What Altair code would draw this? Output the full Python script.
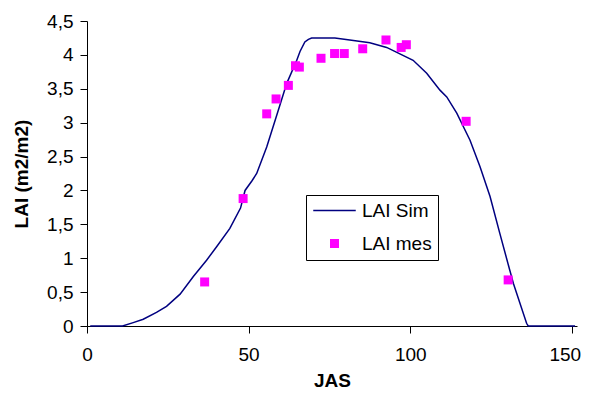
import altair as alt
import pandas as pd

# Simulated LAI (line)
sim_x = [1, 11, 14.3, 17.4, 21.5, 24.6, 28.8, 32.9, 37.0, 40.1, 44.2, 47.5, 48.9,
         51.0, 52.5, 55.6, 58.7, 61.8, 64.9, 65.9, 67.4, 68.5, 69.5, 72.0, 76.7, 81.3,
         87.5, 92.7, 100.9, 105.1, 109.2, 111.3, 114.4, 118.5, 121.6, 124.7,
         127.7, 131.9, 136.0, 136.5, 151]
sim_y = [0, 0, 0.05, 0.10, 0.20, 0.29, 0.47, 0.73, 0.97, 1.17, 1.44, 1.74, 2.0,
         2.14, 2.25, 2.64, 3.11, 3.58, 3.92, 4.05, 4.19, 4.23, 4.25, 4.25, 4.25, 4.22,
         4.18, 4.11, 3.92, 3.73, 3.48, 3.38, 3.14, 2.74, 2.35, 1.91,
         1.37, 0.63, 0.04, 0, 0]

# Measured LAI (points)
mes_x = [36.4, 48.3, 55.6, 58.5, 62.3, 64.5, 65.7, 72.4, 76.6, 79.6, 85.3, 92.5, 97.2, 98.8, 117.3, 130.3]
mes_y = [0.65, 1.88, 3.13, 3.35, 3.55, 3.84, 3.82, 3.95, 4.02, 4.02, 4.09, 4.22, 4.11, 4.15, 3.02, 0.68]

series = ["LAI Sim", "LAI mes"]
x_ticks = [0, 50, 100, 150]
y_ticks = [0, 0.5, 1, 1.5, 2, 2.5, 3, 3.5, 4, 4.5]

sim_df = pd.DataFrame({"x": sim_x, "y": sim_y})
mes_df = pd.DataFrame({"x": mes_x, "y": mes_y, "series": series[1]})

FONT = "Liberation Sans"
NAVY = "#000080"
MAGENTA = "#FF00FF"

legend = alt.Legend(
    title=None,
    orient="none",
    legendX=219,
    legendY=174,
    strokeColor="black",
    fillColor="white",
    padding=6,
    labelFont=FONT,
    labelFontSize=19,
    labelColor="black",
    symbolOffset=13,
    labelOffset=18,
    rowPadding=13,
    symbolOpacity=1,
    symbolStrokeWidth=0,
)

color = alt.Color("series:N", scale=alt.Scale(domain=series, range=[NAVY, MAGENTA]), legend=legend)
shape = alt.Shape("series:N", scale=alt.Scale(domain=series, range=["M-2.5,-0.09H2.5V0.09H-2.5Z", "square"]), legend=legend)
size = alt.Size("series:N", scale=alt.Scale(domain=series, range=[289, 81]), legend=legend)

x_enc = alt.X(
    "x:Q",
    scale=alt.Scale(domain=[0, 151.6], nice=False),
    axis=alt.Axis(values=x_ticks, title="JAS", grid=False, tickSize=7,
                  labelPadding=12, labelFlush=False, titleY=60, titleBaseline="alphabetic",
                  labelOffset={"condition": {"test": "datum.value == 150", "value": -7}, "value": 0}),
)
y_enc = alt.Y(
    "y:Q",
    scale=alt.Scale(domain=[0, 4.5], nice=False),
    axis=alt.Axis(values=y_ticks, title="LAI (m2/m2)", grid=False, tickSize=7,
                  labelPadding=7, labelOverlap=False, labelFlush=False,
                  labelExpr="replace(format(datum.value, '.1~f'), '.', ',')",
                  titleX=-66, titleBaseline="middle"),
)

line = alt.Chart(sim_df).mark_line(strokeWidth=1.5, color=NAVY).encode(x=x_enc, y=y_enc)
points = alt.Chart(mes_df).mark_point(filled=True, opacity=1, strokeWidth=0).encode(
    x=x_enc, y=y_enc, color=color, shape=shape, size=size
)

chart = (
    alt.layer(line, points)
    .properties(width=490, height=305, autosize=alt.AutoSizeParams(type="none"),
                padding={"left": 79, "top": 13, "right": 4, "bottom": 65},
                background="white")
    .configure_view(stroke=None)
    .configure_axis(
        labelFont=FONT, labelFontSize=19, labelColor="black",
        titleFont=FONT, titleFontSize=19, titleFontWeight="bold", titleColor="black",
        domainColor="black", tickColor="black", domainWidth=1, tickWidth=1,
    )
)

chart.save("out.html", embed_options={"renderer": "svg", "actions": False})
